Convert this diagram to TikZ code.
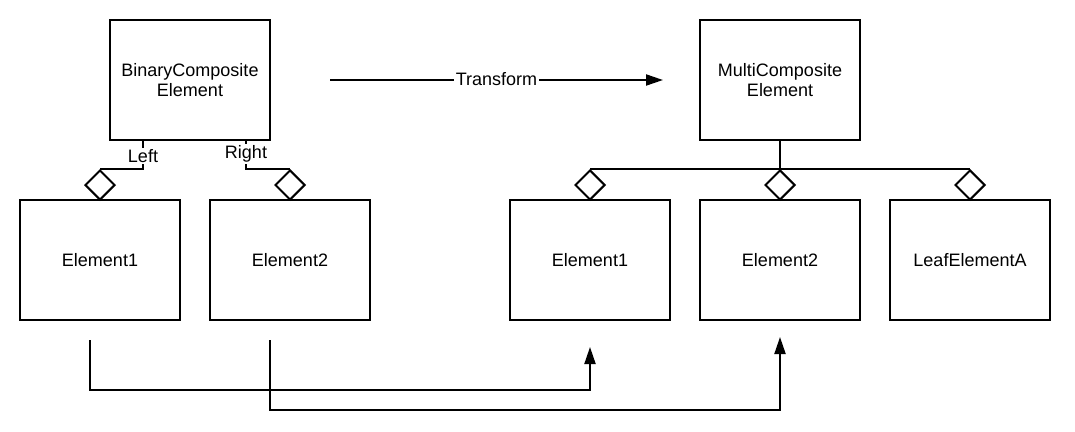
\documentclass[tikz,border=0pt]{standalone}
\usepackage{fontspec}
\setmainfont{Liberation Sans}
\usetikzlibrary{shapes.geometric,arrows.meta}
\begin{document}
\begin{tikzpicture}[x=1pt,y=-1pt,
 box/.style={draw, line width=2pt, minimum width=160pt, minimum height=120pt, inner sep=0pt, font=\fontsize{18}{20.5}\selectfont, align=center},
 dia/.style={draw, diamond, line width=2pt, minimum width=30pt, minimum height=30pt, inner sep=0pt, fill=white},
 conn/.style={line width=2pt},
 arr/.style={line width=2pt, -{Triangle[length=17pt,width=11pt]}},
 lbl/.style={fill=white, inner sep=1.5pt, font=\fontsize{18}{20}\selectfont}]
\useasboundingbox (0,0) rectangle (1075,431);
% boxes
\node[box] (bin) at (190,80) {BinaryComposite\\Element};
\node[box] (a1) at (100,260) {Element1};
\node[box] (a2) at (290,260) {Element2};
\node[box] (multi) at (780,80) {MultiComposite\\Element};
\node[box] (b1) at (590,260) {Element1};
\node[box] (b2) at (780,260) {Element2};
\node[box] (b3) at (970,260) {LeafElementA};
% diamonds
\node[dia] (da1) at (100,185) {};
\node[dia] (da2) at (290,185) {};
\node[dia] (db1) at (590,185) {};
\node[dia] (db2) at (780,185) {};
\node[dia] (db3) at (970,185) {};
% left composite links
\draw[conn] ([xshift=-47pt]bin.south) |- node[lbl, pos=0.27] {Left} (da1.north);
\draw[conn] ([xshift=56pt]bin.south) |- node[lbl, pos=0.23] {Right} (da2.north);
% right composite links
\draw[conn] (multi.south) -- (db2.north);
\draw[conn] (db1.north) -- (db3.north);
% transform arrow
\coordinate (tf1) at (330,80);
\coordinate (tf2) at (663,80);
\draw[arr] (tf1) -- node[lbl, yshift=1pt] {Transform} (tf2);
% bottom mapping arrows
\coordinate (s1) at (90,340);
\coordinate (t1) at (590,347);
\coordinate (s2) at (270,340);
\coordinate (t2) at (780,337);
\draw[arr] (s1) -- ++(0,50) -| (t1);
\draw[arr] (s2) -- ++(0,70) -| (t2);
\end{tikzpicture}
\end{document}
